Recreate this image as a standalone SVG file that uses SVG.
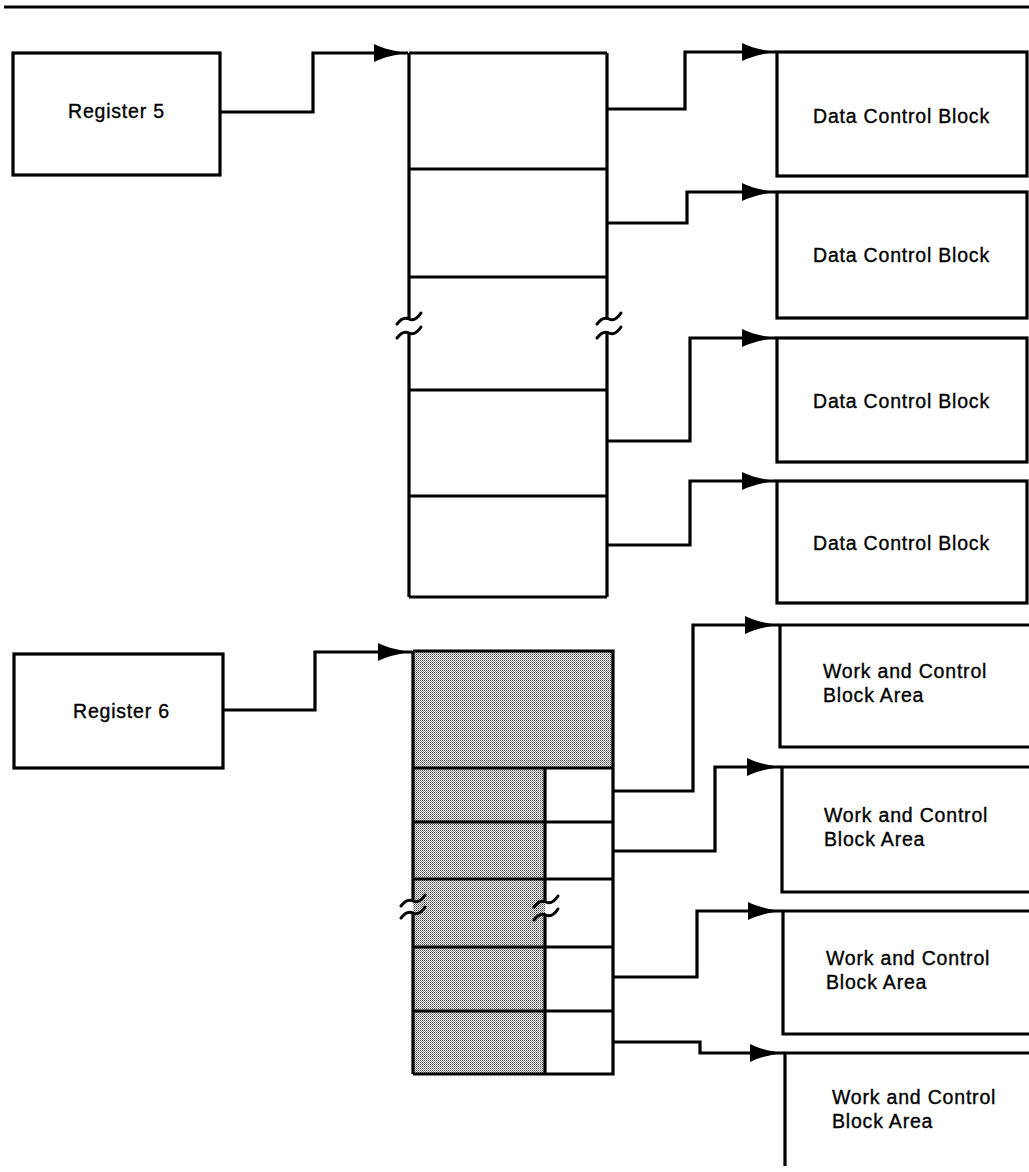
<svg xmlns="http://www.w3.org/2000/svg" width="1029" height="1172" viewBox="0 0 1029 1172">
<style>
.b{fill:none;stroke:#000;stroke-width:3.2;stroke-linejoin:miter}
.w{fill:#fff;stroke:#000;stroke-width:3.2}
.c{fill:none;stroke:#000;stroke-width:3.2;stroke-linejoin:miter}
.brk{fill:none;stroke:#000;stroke-width:3;stroke-linecap:round}
.t{font-family:"Liberation Sans",Arial,sans-serif;font-size:19.5px;letter-spacing:0.8px;fill:#000;stroke:#000;stroke-width:0.35}
.sh{fill:url(#dots);stroke:none}
</style>
<defs>
<pattern id="dots" width="2" height="2" patternUnits="userSpaceOnUse">
<rect width="2" height="2" fill="#fff"/>
<rect width="1" height="1" fill="#444"/>
<rect x="1" y="1" width="1" height="1" fill="#888"/>
</pattern>
<marker id="arr" markerWidth="40" markerHeight="24" viewBox="-36 -12 40 24" refX="0" refY="0" orient="auto" markerUnits="userSpaceOnUse">
<path d="M0,0 C-12,-1.5 -24,-4 -34,-9 L-34,9 C-24,4 -12,1.5 0,0 Z" fill="#000"/>
</marker>
<path id="tl" d="M-12,5 Q-6,-3 0,0 T12,-6"/>
</defs>
<rect width="1029" height="1172" fill="#fff"/>
<line x1="4" y1="7" x2="1029" y2="7" stroke="#000" stroke-width="3"/>

<g id="reg5">
<rect class="w" x="13" y="53" width="207" height="122"/>
<text class="t" x="68" y="118">Register 5</text>
</g>

<g id="stack5">
<path class="b" d="M409,53 H607 M409,597 H607 M409,169 H607 M409,277 H607 M409,390 H607 M409,496 H607"/>
<path class="b" d="M409,53 V319 M409,333 V597 M607,53 V319 M607,333 V597"/>
<use href="#tl" class="brk" x="409" y="319"/>
<use href="#tl" class="brk" x="409" y="333"/>
<use href="#tl" class="brk" x="609" y="319"/>
<use href="#tl" class="brk" x="609" y="333"/>
</g>

<g id="dcb1">
<rect class="w" x="777" y="52" width="250" height="124"/>
<text class="t" x="813" y="123">Data Control Block</text>
</g>
<g id="dcb2">
<rect class="w" x="777" y="192" width="250" height="126"/>
<text class="t" x="813" y="262">Data Control Block</text>
</g>
<g id="dcb3">
<rect class="w" x="777" y="338" width="250" height="124"/>
<text class="t" x="813" y="408">Data Control Block</text>
</g>
<g id="dcb4">
<rect class="w" x="777" y="481" width="250" height="122"/>
<text class="t" x="813" y="550">Data Control Block</text>
</g>

<g id="reg6">
<rect class="w" x="14" y="654" width="209" height="114"/>
<text class="t" x="73" y="718">Register 6</text>
</g>

<g id="stack6">
<rect class="sh" x="413" y="651" width="200" height="117"/>
<rect class="sh" x="413" y="768" width="132" height="306"/>
<path class="b" d="M413,651 H613 V1074 H413 M413,768 H613 M413,822 H613 M413,879 H613 M413,947 H613 M413,1011 H613"/>
<path class="b" d="M413,651 V901 M413,913 V1074 M545,768 V902 M545,915 V1074"/>
<use href="#tl" class="brk" x="413" y="901"/>
<use href="#tl" class="brk" x="413" y="913"/>
<use href="#tl" class="brk" x="546" y="902"/>
<use href="#tl" class="brk" x="546" y="915"/>
</g>

<g id="wcba1">
<path class="b" d="M1030,625 H780 V747 H1030"/>
<text class="t" x="823" y="678">Work and Control</text>
<text class="t" x="823" y="702">Block Area</text>
</g>
<g id="wcba2">
<path class="b" d="M1030,767 H782 V892 H1030"/>
<text class="t" x="824" y="822">Work and Control</text>
<text class="t" x="824" y="846">Block Area</text>
</g>
<g id="wcba3">
<path class="b" d="M1030,911 H783 V1034 H1030"/>
<text class="t" x="826" y="965">Work and Control</text>
<text class="t" x="826" y="989">Block Area</text>
</g>
<g id="wcba4">
<path class="b" d="M1030,1053 H785 V1166"/>
<text class="t" x="832" y="1104">Work and Control</text>
<text class="t" x="832" y="1128">Block Area</text>
</g>

<g id="connectors">
<path class="c" d="M220,112 H313 V53 H408" marker-end="url(#arr)"/>
<path class="c" d="M607,109 H685 V52 H776" marker-end="url(#arr)"/>
<path class="c" d="M607,223 H687 V192 H776" marker-end="url(#arr)"/>
<path class="c" d="M607,441 H690 V338 H776" marker-end="url(#arr)"/>
<path class="c" d="M607,545 H690 V481 H776" marker-end="url(#arr)"/>
<path class="c" d="M223,710 H315 V652 H412" marker-end="url(#arr)"/>
<path class="c" d="M613,791 H693 V625 H779" marker-end="url(#arr)"/>
<path class="c" d="M613,851 H715 V767 H781" marker-end="url(#arr)"/>
<path class="c" d="M613,977 H697 V911 H782" marker-end="url(#arr)"/>
<path class="c" d="M613,1042 H700 V1053 H784" marker-end="url(#arr)"/>
</g>
</svg>
